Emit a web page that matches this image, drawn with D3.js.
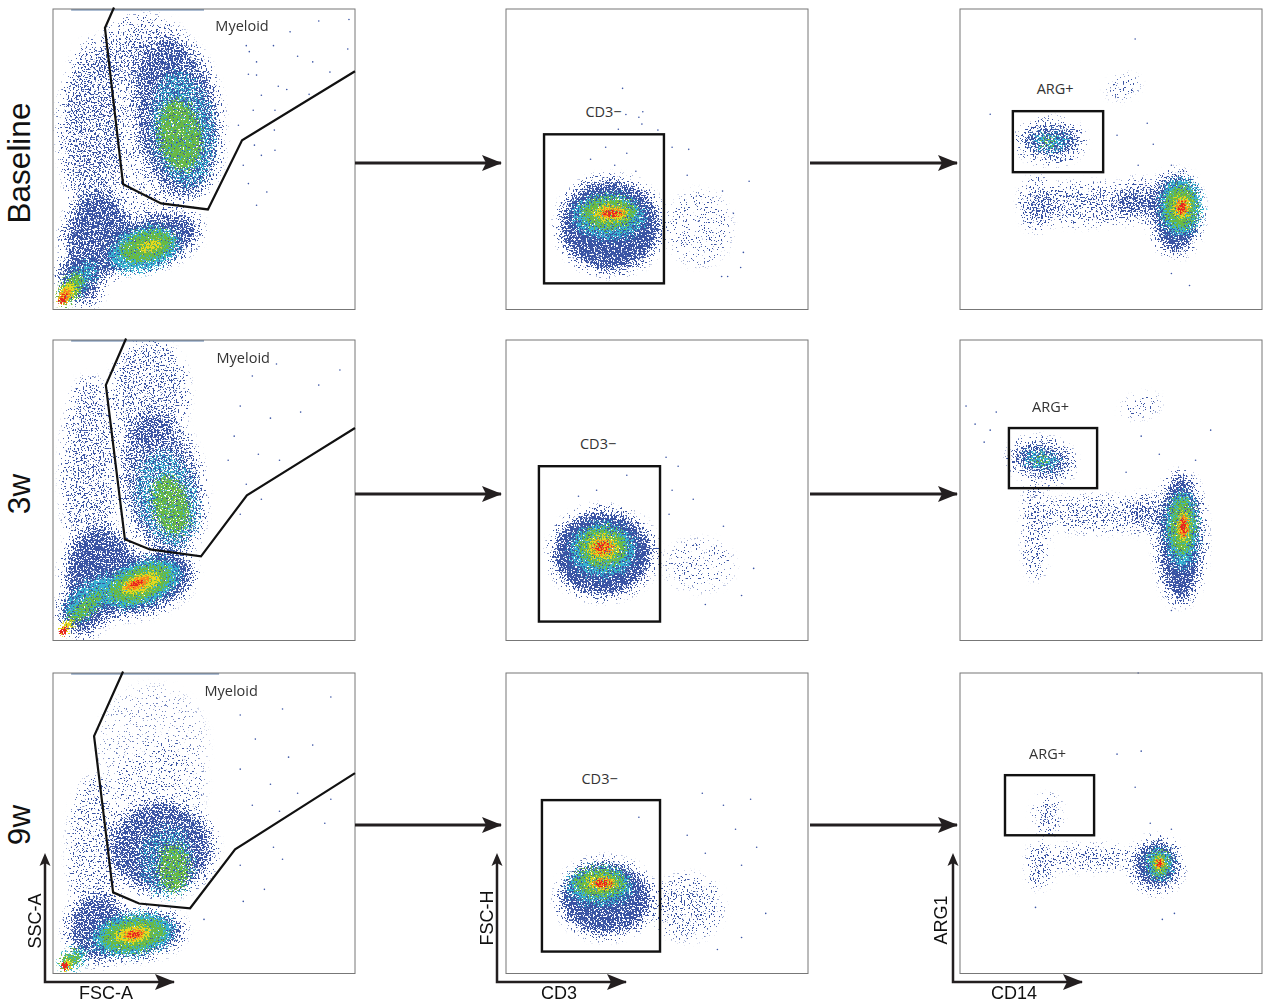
<!DOCTYPE html>
<html>
<head>
<meta charset="utf-8">
<script src="https://cdn.jsdelivr.net/npm/d3@7"></script>
<style>
  html, body { margin: 0; padding: 0; background: #fff; }
  svg { display: block; }
</style>
</head>
<body>
<div id="chart"></div>
<script>
// density colour levels, sparse blue up to the red core
const levelColors = ["#3a54a4", "#38b3d2", "#69b944", "#e6d91e", "#f5891f", "#e8261f"];
const levelBlur = [5.5, 3.5, 3, 2, 1.5, 1.2];

// populations, in percent of each axis
// level, x, y, x spread, y spread, tilt, density
const baselineFsc = [
  [0, 13, 58, 9, 31, 0, 0.36], [0, 30, 86, 14, 11, 0, 0.3], [0, 28, 60, 26, 30, 0, 0.2], [0, 41, 64, 14, 27, -8, 0.66],
  [0, 15, 24, 11, 14, 0, 0.82], [0, 33, 23, 16, 8, -18, 0.85], [0, 9, 10, 6, 8, -35, 0.85],
  [1, 43, 60, 10, 19, -8, 0.55], [2, 42, 58, 7, 12, -8, 0.9],
  [1, 30, 20, 12, 7, -16, 0.9], [2, 31, 21, 9, 5, -16, 1], [3, 32, 21, 4, 1.9, -16, 0.85],
  [1, 9, 10, 8, 3.5, -50, 0.7], [2, 6, 7, 6, 3, -55, 1], [3, 4.6, 5.5, 4, 2.2, -55, 1],
  [4, 4, 4.5, 2.8, 1.7, -55, 1], [5, 3.4, 3.6, 1.9, 1.1, -55, 1]
];
const threeWeekFsc = [
  [0, 12, 54, 8, 33, 0, 0.38], [0, 32, 82, 12, 17, 0, 0.38], [0, 36, 52, 13, 24, -10, 0.62],
  [0, 16, 22, 12, 15, 0, 0.9], [0, 31, 19, 16, 9, -20, 0.95], [0, 9, 9, 6, 7, -35, 0.95],
  [1, 38, 47, 10, 16, -14, 0.5], [2, 39, 45, 6, 10, -14, 0.85],
  [1, 12, 14, 10, 5, -40, 0.8], [1, 29, 19, 14, 7, -20, 1], [2, 29, 19, 11, 5.5, -20, 1],
  [2, 11, 11, 8, 2.5, -42, 0.9], [3, 29, 19, 7, 3, -20, 1], [4, 28, 19, 4.5, 1.8, -20, 1],
  [5, 28, 19, 2.2, 0.9, -20, 0.9], [3, 4.5, 4.5, 2.8, 1.5, -50, 1], [5, 3.5, 3.2, 1.6, 1.2, -50, 1]
];
const nineWeekFsc = [
  [0, 36, 62, 14, 14, 0, 0.12], [0, 33, 76, 18, 20, 0, 0.07], [0, 14, 40, 8, 25, 0, 0.28], [0, 36, 42, 17, 15, 0, 0.8],
  [0, 15, 15, 10, 11, 0, 0.8], [0, 29, 13, 14, 7, -8, 0.85],
  [1, 38, 37, 9, 12, 0, 0.45], [2, 40, 35, 5, 8, 0, 0.85],
  [1, 26.5, 13, 13.5, 6.8, -8, 1], [2, 26.5, 13, 11, 5.2, -8, 1], [3, 26.5, 13, 6, 2.8, -8, 1],
  [4, 27, 13, 3.5, 1.6, -8, 1], [5, 27, 13, 2.3, 1, -8, 0.9],
  [1, 7, 5, 5, 3, -35, 0.8], [2, 6, 4.5, 3.8, 2.2, -35, 1], [3, 4.5, 3, 2, 1.5, -40, 1], [5, 4, 2.5, 1.2, 1.3, -40, 1]
];
const baselineCd3 = [
  [0, 34.5, 28, 16.5, 15, 0, 0.98], [0, 64, 27, 10, 12, 0, 0.15],
  [1, 34, 31, 12, 7.5, 0, 0.8], [2, 34, 32, 9.5, 5.5, 0, 0.9],
  [3, 34.5, 32, 6, 3, 0, 0.75], [4, 35, 32, 4.5, 2, 0, 0.7], [5, 35, 32, 3.2, 1.2, 0, 0.75]
];
const threeWeekCd3 = [
  [0, 32, 29, 16.5, 14, 0, 0.98], [0, 64, 25, 11, 8, 0, 0.15],
  [1, 32, 30, 11, 9, 0, 0.8], [2, 32, 31, 8.5, 7, 0, 0.85],
  [3, 32, 31, 5.5, 4.5, 0, 0.7], [4, 32, 31, 3.8, 3, 0, 0.65], [5, 32, 31, 2.8, 2.2, 0, 0.6]
];
const nineWeekCd3 = [
  [0, 33, 25, 15, 12, 0, 0.95], [0, 60, 22, 11, 10, 0, 0.28],
  [1, 31, 29, 11, 6.5, 0, 0.75], [2, 31, 30, 9, 5, 0, 0.85],
  [3, 31.5, 30, 5.5, 2.6, 0, 0.75], [4, 32, 30, 4, 1.7, 0, 0.7], [5, 32, 30, 3, 1.1, 0, 0.8]
];
const baselineCd14 = [
  [0, 71.5, 32, 7.5, 13, 0, 0.98], [0, 42, 35, 19, 6, 0, 0.4], [0, 25.5, 35, 4.5, 8, 0, 0.48], [0, 59, 36, 7, 6, 0, 0.62],
  [0, 30, 56, 10, 6, 0, 0.72], [0, 54, 74, 5, 3, -20, 0.2],
  [1, 73, 34, 7, 9.5, 0, 0.9], [2, 73, 34, 5.5, 7.5, 0, 0.95],
  [3, 73.5, 34, 3, 4, 0, 0.8], [4, 73.5, 34, 2.2, 2.8, 0, 0.8], [5, 73.5, 34, 1.5, 2.2, 0, 0.8],
  [1, 30, 56, 6, 3, 0, 0.65], [2, 29, 56, 2.8, 1.4, 0, 0.6]
];
const threeWeekCd14 = [
  [0, 73, 34, 7, 21, 0, 0.95], [0, 45, 42, 19, 5, 0, 0.33], [0, 25, 37, 3, 16, 0, 0.4], [0, 62, 42, 6, 6, 0, 0.45],
  [0, 27, 60, 10, 6, 10, 0.72], [0, 60, 78, 6, 3, -15, 0.18],
  [1, 73.5, 37, 5.5, 13, 0, 0.85], [2, 73.5, 38, 4.2, 10, 0, 0.9],
  [3, 74, 38, 2.2, 5.5, 0, 0.8], [4, 74, 38, 1.7, 4, 0, 0.8], [5, 74, 38, 1, 2.8, 0, 0.85],
  [1, 27, 60, 6, 3, 10, 0.7], [2, 27, 60, 3, 1.6, 10, 0.6]
];
const nineWeekCd14 = [
  [0, 65, 36, 7.5, 8, 0, 0.95], [0, 43, 38.5, 14, 3, 0, 0.42], [0, 26.5, 36, 3, 7, 0, 0.48],
  [0, 29, 53, 3.5, 5.5, 0, 0.45],
  [1, 66, 36.5, 4.5, 5.5, 0, 0.85], [2, 66, 36.5, 3.2, 4.2, 0, 0.9],
  [3, 66, 36.5, 1.8, 2.4, 0, 0.85], [4, 66, 36.5, 1.3, 1.7, 0, 0.85], [5, 66, 36.5, 1, 1.1, 0, 0.9]
];

// single outlying events, read one by one
const baselineFscDots = [[88, 96], [98, 96.5], [78.5, 92.4], [64, 87.8], [73, 87.8], [65, 85.8], [67.4, 82.4], [81, 84.3], [86, 82.4], [97.6, 86.7], [64.7, 78.3], [67.4, 78], [91.7, 79], [74.6, 74.3], [77.4, 73.2], [69, 71.3], [84.8, 71.6], [66.3, 66.3], [73.5, 66.3], [61.4, 61.3], [73.3, 59.7], [66.7, 54.7], [69, 51.3], [73.5, 53], [63, 48], [64.7, 41.9], [70.8, 39.1], [67.4, 34.7]];
const threeWeekFscDots = [[74, 92], [88, 85], [66, 88], [62, 78], [72, 74], [82, 76], [60, 68], [68, 62], [75, 60], [58, 60], [64, 52], [69, 47], [62, 42], [95, 90]];
const nineWeekFscDots = [[92, 92], [76, 88], [62, 86], [67, 78], [78, 72], [86, 76], [62, 68], [72, 63], [81, 60], [92, 58], [66, 56], [75, 54], [90, 50], [73, 42], [76, 38], [62, 36], [70, 28], [63, 24], [50, 18]];
const baselineCd3Dots = [[38.6, 73.6], [45.3, 65.8], [39.7, 64.9], [44, 64], [45, 61.7], [37.2, 60], [50.3, 59.7], [55, 54], [60.5, 53.3], [80.5, 42.7], [60, 44.7], [71.7, 39.4], [75.3, 32], [78.6, 19], [77.7, 14], [73.4, 11], [71.4, 11], [33, 54], [40, 52], [28, 50], [36, 48], [43, 46]];
const threeWeekCd3Dots = [[53, 61], [57, 58], [55, 50], [62, 47], [54, 42], [72, 38], [82, 24], [78, 15], [66, 12], [40, 55], [30, 50], [24, 48]];
const nineWeekCd3Dots = [[65, 60], [72, 56], [81, 58], [76, 48], [83, 42], [60, 46], [66, 40], [78, 36], [86, 20], [78, 12], [70, 8], [44, 52]];
const baselineCd14Dots = [[10, 65], [58, 90], [62, 62], [64, 55], [52, 58], [59, 48], [70, 48], [74, 46], [66, 41], [70, 12], [76, 8]];
const threeWeekCd14Dots = [[2, 78], [10, 70], [60, 68], [66, 62], [78, 60], [83, 70], [55, 56], [72, 14], [70, 10], [5, 72], [12, 76], [8, 66]];
const nineWeekCd14Dots = [[59, 100], [60, 74], [52, 73], [58, 62], [70, 48], [63, 50], [25, 22], [67, 18], [71, 20]];

// gates and labels, same units
const fscGates = [
  [[20.2, 100.5], [17.2, 93.7], [23.2, 41.7], [35.8, 35.3], [51.3, 33.3], [62.6, 56.3], [100, 79.3]],
  [[24.2, 100.5], [17.5, 85], [23.8, 33.7], [32.1, 30.3], [49, 28], [64.2, 48.3], [100, 70.7]],
  [[23.2, 100.5], [13.6, 79], [19.9, 27], [28.5, 23.3], [45.4, 21.7], [60.3, 41.3], [100, 66.7]]
];
const cd3Boxes = [[12.6, 52.3, 8.7, 58.3], [10.9, 51, 6.3, 58], [11.9, 51, 7.3, 57.7]];
const argBoxes = [[17.5, 47.4, 45.7, 66], [16.2, 45.4, 50.7, 70.7], [14.9, 44.4, 46, 66]];
const gateLabels = [
  [["Myeloid", 62.6, 92.6], ["CD3\u2212", 32.3, 64.1], ["ARG+", 31.5, 71.7]],
  [["Myeloid", 63, 92.5], ["CD3\u2212", 30.5, 63.7], ["ARG+", 30, 75.9]],
  [["Myeloid", 59, 92.2], ["CD3\u2212", 31, 63.1], ["ARG+", 29, 71.4]]
];

const rowNames = ["Baseline", "3w", "9w"];
const xAxisNames = ["FSC-A", "CD3", "CD14"];
const yAxisNames = ["SSC-A", "FSC-H", "ARG1"];

const panels = [
  [[baselineFsc, baselineFscDots], [baselineCd3, baselineCd3Dots], [baselineCd14, baselineCd14Dots]],
  [[threeWeekFsc, threeWeekFscDots], [threeWeekCd3, threeWeekCd3Dots], [threeWeekCd14, threeWeekCd14Dots]],
  [[nineWeekFsc, nineWeekFscDots], [nineWeekCd3, nineWeekCd3Dots], [nineWeekCd14, nineWeekCd14Dots]]
];

const colX = [53, 506, 960];
const rowY = [9, 340, 673];
const panelW = 302, panelH = 300.5;

const svg = d3.select("#chart").append("svg")
  .attr("width", 1263)
  .attr("height", 1003);

const defs = svg.append("defs");

const marker = defs.append("marker")
  .attr("id", "head")
  .attr("markerUnits", "userSpaceOnUse")
  .attr("viewBox", "0 0 20 16")
  .attr("refX", 19).attr("refY", 8)
  .attr("markerWidth", 20).attr("markerHeight", 16)
  .attr("orient", "auto");
marker.append("path").attr("d", "M0,0L20,8L0,16L4,8Z").attr("fill", "#231f20");

// speckle filter: the blurred population decides how many noise grains survive
function addSpeckle(id, level, seed) {
  const f = defs.append("filter")
    .attr("id", id)
    .attr("filterUnits", "userSpaceOnUse")
    .attr("x", 0).attr("y", 0)
    .attr("width", panelW).attr("height", panelH)
    .attr("color-interpolation-filters", "sRGB");
  f.append("feTurbulence")
    .attr("type", "fractalNoise").attr("baseFrequency", 0.6)
    .attr("numOctaves", 2).attr("seed", seed).attr("result", "noise");
  f.append("feColorMatrix").attr("in", "noise").attr("type", "matrix")
    .attr("values", "0 0 0 0 0  0 0 0 0 0  0 0 0 0 0  3 0 0 0 -1.1").attr("result", "grain");
  f.append("feGaussianBlur").attr("in", "SourceAlpha")
    .attr("stdDeviation", levelBlur[level]).attr("result", "soft");
  f.append("feComposite").attr("in", "soft").attr("in2", "grain")
    .attr("operator", "arithmetic")
    .attr("k1", 0).attr("k2", 1).attr("k3", 1).attr("k4", -1).attr("result", "mix");
  const sharp = f.append("feComponentTransfer").attr("in", "mix").attr("result", "mask");
  sharp.append("feFuncA").attr("type", "linear").attr("slope", 10);
  const gate = f.append("feComponentTransfer").attr("in", "soft").attr("result", "gate");
  gate.append("feFuncA").attr("type", "linear").attr("slope", 40);
  f.append("feComposite").attr("in", "mask").attr("in2", "gate").attr("operator", "in").attr("result", "cut");
  f.append("feFlood").attr("flood-color", levelColors[level]).attr("result", "ink");
  f.append("feComposite").attr("in", "ink").attr("in2", "cut").attr("operator", "in").attr("result", "dots");
  f.append("feGaussianBlur").attr("in", "dots").attr("stdDeviation", 0.3);
}

panels.forEach((rowPanels, r) => {
  rowPanels.forEach(([regions, dots], c) => {
    const g = svg.append("g")
      .attr("transform", "translate(" + colX[c] + "," + rowY[r] + ")");
    const x = d3.scaleLinear().domain([0, 100]).range([0, panelW]);
    const y = d3.scaleLinear().domain([0, 100]).range([panelH, 0]);

    g.append("rect")
      .attr("width", panelW).attr("height", panelH)
      .attr("fill", "#fff");

    levelColors.forEach((color, level) => {
      const id = "speckle" + r + c + level;
      addSpeckle(id, level, 3 + r * 11 + c * 5 + level * 7);
      g.append("g")
        .attr("filter", "url(#" + id + ")")
        .selectAll("ellipse")
        .data(regions.filter(d => d[0] === level))
        .enter()
        .append("ellipse")
        .attr("cx", d => x(d[1]))
        .attr("cy", d => y(d[2]))
        .attr("rx", d => x(d[3]) - x(0))
        .attr("ry", d => y(0) - y(d[4]))
        .attr("transform", d => "rotate(" + d[5] + " " + x(d[1]) + " " + y(d[2]) + ")")
        .attr("fill", "#000")
        .attr("fill-opacity", d => d[6]);
    });

    g.selectAll(".dot")
      .data(dots)
      .enter()
      .append("circle")
      .attr("class", "dot")
      .attr("cx", d => x(d[0]))
      .attr("cy", d => y(d[1]))
      .attr("r", 0.8)
      .attr("fill", levelColors[0]);

    // saturated events piled on the top edge of the scatter plots
    if (c === 0) {
      g.append("line")
        .attr("x1", x(6)).attr("x2", x(r === 2 ? 55 : 50))
        .attr("y1", 0.8).attr("y2", 0.8)
        .attr("stroke", "#5f7fa8").attr("stroke-width", 1.2);
    }

    g.append("rect")
      .attr("width", panelW).attr("height", panelH)
      .attr("fill", "none")
      .attr("stroke", "#777").attr("stroke-width", 1);

    // gates
    if (c === 0) {
      g.append("path")
        .attr("d", d3.line().x(d => x(d[0])).y(d => y(d[1]))(fscGates[r]))
        .attr("fill", "none").attr("stroke", "#111").attr("stroke-width", 2.2);
    } else {
      const b = (c === 1 ? cd3Boxes : argBoxes)[r];
      g.append("rect")
        .attr("x", x(b[0])).attr("y", y(b[3]))
        .attr("width", x(b[1]) - x(b[0])).attr("height", y(b[2]) - y(b[3]))
        .attr("fill", "none").attr("stroke", "#111").attr("stroke-width", 2.4);
    }

    const label = gateLabels[r][c];
    g.append("text")
      .attr("x", x(label[1])).attr("y", y(label[2]))
      .attr("text-anchor", "middle")
      .style("font-family", "'Open Sans', sans-serif")
      .style("font-size", "14.5px")
      .style("fill", "#333")
      .text(label[0]);
  });

  // row title and arrows between panels
  const midY = [163, 494, 825][r];
  svg.append("text")
    .attr("transform", "translate(29.5," + midY + ") rotate(-90)")
    .attr("text-anchor", "middle")
    .style("font-family", "'Liberation Sans', Arial, sans-serif")
    .style("font-size", "31.5px")
    .style("fill", "#111")
    .text(rowNames[r]);
  [[355, 501], [810, 957]].forEach(a => {
    svg.append("line")
      .attr("x1", a[0]).attr("x2", a[1])
      .attr("y1", midY).attr("y2", midY)
      .attr("stroke", "#231f20").attr("stroke-width", 3)
      .attr("marker-end", "url(#head)");
  });
});

// axis arrows under the bottom row
const axisX = [45, 497, 953];
const axisEnd = [174, 626, 1082];
const xNameX = [106, 559, 1014];
const yNameX = [41, 493, 947];
const yNameY = [921, 918, 920];
axisX.forEach((ax, i) => {
  svg.append("path")
    .attr("d", "M" + ax + ",860V982H" + axisEnd[i])
    .attr("fill", "none")
    .attr("stroke", "#231f20").attr("stroke-width", 2.5)
    .attr("marker-end", "url(#head)");
  svg.append("path")
    .attr("d", "M" + (ax - 5.5) + ",866L" + ax + ",853L" + (ax + 5.5) + ",866L" + ax + ",863Z")
    .attr("fill", "#231f20");
  svg.append("text")
    .attr("x", xNameX[i]).attr("y", 999)
    .attr("text-anchor", "middle")
    .style("font-family", "'Liberation Sans', Arial, sans-serif")
    .style("font-size", "18px")
    .style("fill", "#111")
    .text(xAxisNames[i]);
  svg.append("text")
    .attr("transform", "translate(" + yNameX[i] + "," + yNameY[i] + ") rotate(-90)")
    .attr("text-anchor", "middle")
    .style("font-family", "'Liberation Sans', Arial, sans-serif")
    .style("font-size", "18px")
    .style("fill", "#111")
    .text(yAxisNames[i]);
});
</script>
</body>
</html>
